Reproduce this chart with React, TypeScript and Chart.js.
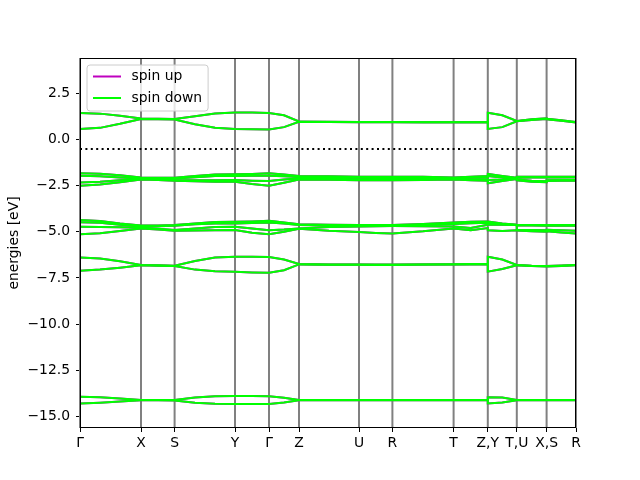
import { useEffect, useRef } from 'react';
import { Chart, registerables } from 'chart.js';
Chart.register(...registerables);

const FONT = "'DejaVu Sans', sans-serif";
const FS = 13.9;

// k-path sample positions (path distance) shared by every band
const kGrid = [0, 20, 40, 61, 78, 94.6, 115, 135, 155, 172, 189, 204, 219, 249, 279, 295.7, 312.4, 343, 373.6, 390.7, 407.8, 407.8, 422.3, 436.8, 436.8, 451.7, 466.6, 466.6, 481.3, 496];
const kTickPos = [0, 61, 94.6, 155, 189, 219, 279, 312.4, 373.6, 407.8, 436.8, 466.6, 496];
const kTickLabels = ['Γ', 'X', 'S', 'Y', 'Γ', 'Z', 'U', 'R', 'T', 'Z,Y', 'T,U', 'X,S', 'R'];
const yTickValues = [2.5, 0, -2.5, -5, -7.5, -10, -12.5, -15];
const yMin = -15.62;
const yMax = 4.4;
const fermiLevel = -0.52;

// bands (eV)
const band1 = [1.43, 1.39, 1.28, 1.13, 1.11, 1.10, 1.25, 1.40, 1.45, 1.45, 1.43, 1.30, 0.97, 0.95, 0.94, 0.94, 0.94, 0.93, 0.93, 0.93, 0.93, 1.44, 1.30, 0.99, 0.99, 1.08, 1.13, 1.11, 1.03, 0.93];
const band2 = [0.56, 0.62, 0.84, 1.10, 1.09, 1.07, 0.82, 0.63, 0.56, 0.54, 0.53, 0.66, 0.95, 0.94, 0.93, 0.93, 0.93, 0.92, 0.92, 0.92, 0.92, 0.56, 0.66, 0.98, 0.98, 1.05, 1.10, 1.08, 1.00, 0.91];
const band3 = [-1.84, -1.86, -1.95, -2.06, -2.08, -2.08, -1.98, -1.91, -1.89, -1.87, -1.84, -1.90, -1.98, -2.00, -2.02, -2.02, -2.03, -2.02, -2.06, -2.02, -1.98, -1.87, -1.98, -2.08, -2.03, -2.02, -2.03, -2.02, -2.02, -2.02];
const band4 = [-1.97, -2.00, -2.06, -2.11, -2.12, -2.12, -2.05, -1.99, -1.98, -1.97, -1.97, -2.00, -2.04, -2.06, -2.07, -2.08, -2.08, -2.09, -2.10, -2.06, -2.04, -1.98, -2.06, -2.11, -2.08, -2.07, -2.07, -2.07, -2.06, -2.05];
const band5 = [-2.34, -2.30, -2.22, -2.14, -2.16, -2.20, -2.22, -2.22, -2.20, -2.24, -2.26, -2.18, -2.12, -2.14, -2.16, -2.15, -2.15, -2.15, -2.14, -2.16, -2.16, -2.20, -2.18, -2.13, -2.18, -2.24, -2.27, -2.22, -2.20, -2.19];
const band6 = [-2.51, -2.45, -2.32, -2.18, -2.20, -2.24, -2.27, -2.29, -2.29, -2.42, -2.51, -2.35, -2.18, -2.19, -2.21, -2.21, -2.22, -2.20, -2.18, -2.22, -2.24, -2.38, -2.26, -2.15, -2.22, -2.30, -2.32, -2.26, -2.24, -2.24];
const band7 = [-4.37, -4.42, -4.55, -4.66, -4.66, -4.64, -4.55, -4.48, -4.46, -4.44, -4.40, -4.50, -4.60, -4.62, -4.64, -4.64, -4.64, -4.58, -4.50, -4.46, -4.45, -4.45, -4.55, -4.62, -4.62, -4.63, -4.64, -4.64, -4.64, -4.64];
const band8 = [-4.49, -4.52, -4.62, -4.72, -4.70, -4.67, -4.60, -4.56, -4.55, -4.53, -4.50, -4.56, -4.64, -4.66, -4.67, -4.67, -4.68, -4.64, -4.58, -4.54, -4.52, -4.52, -4.60, -4.64, -4.66, -4.66, -4.67, -4.67, -4.67, -4.67];
const band9 = [-4.73, -4.74, -4.76, -4.78, -4.84, -4.90, -4.82, -4.75, -4.73, -4.82, -4.92, -4.88, -4.82, -4.74, -4.72, -4.70, -4.69, -4.70, -4.72, -4.80, -4.62, -4.62, -4.62, -4.64, -4.90, -4.91, -4.92, -4.90, -4.92, -4.95];
const band10 = [-5.14, -5.08, -4.96, -4.82, -4.88, -4.95, -4.94, -4.92, -4.91, -5.05, -5.14, -5.00, -4.84, -4.95, -5.02, -5.07, -5.10, -4.98, -4.82, -4.92, -4.80, -4.92, -4.96, -4.92, -4.94, -4.98, -5.00, -4.98, -5.04, -5.09];
const band11 = [-6.39, -6.45, -6.60, -6.80, -6.82, -6.84, -6.58, -6.40, -6.35, -6.35, -6.37, -6.50, -6.75, -6.77, -6.78, -6.78, -6.78, -6.77, -6.76, -6.75, -6.75, -6.35, -6.50, -6.80, -6.80, -6.84, -6.86, -6.86, -6.83, -6.80];
const band12 = [-7.11, -7.05, -6.95, -6.82, -6.84, -6.86, -7.05, -7.14, -7.16, -7.20, -7.22, -7.08, -6.77, -6.79, -6.79, -6.80, -6.80, -6.78, -6.77, -6.77, -6.77, -7.16, -7.02, -6.82, -6.82, -6.86, -6.88, -6.88, -6.85, -6.82];
const band13 = [-13.93, -13.96, -14.03, -14.11, -14.11, -14.11, -13.97, -13.90, -13.89, -13.89, -13.90, -13.98, -14.10, -14.10, -14.10, -14.10, -14.10, -14.10, -14.10, -14.10, -14.10, -13.96, -13.97, -14.10, -14.10, -14.10, -14.11, -14.11, -14.11, -14.11];
const band14 = [-14.29, -14.25, -14.19, -14.12, -14.12, -14.13, -14.26, -14.31, -14.32, -14.32, -14.32, -14.24, -14.12, -14.12, -14.12, -14.12, -14.12, -14.12, -14.12, -14.12, -14.12, -14.29, -14.24, -14.12, -14.12, -14.12, -14.12, -14.12, -14.12, -14.12];

const spinUpBands = [band1, band2, band3, band4, band5, band6, band7, band8, band9, band10, band11, band12, band13, band14];
const spinDownBands = [band1, band2, band3, band4, band5, band6, band7, band8, band9, band10, band11, band12, band13, band14];

const UP_COLOR = '#bf00bf';
const DOWN_COLOR = '#00ff00';

const toPoints = (band: number[]) => kGrid.map((k, i) => ({ x: k, y: band[i] }));

const framePlugin = {
  id: 'frame',
  beforeDatasetsDraw(chart: any) {
    const { ctx, chartArea, scales } = chart;
    ctx.save();
    ctx.strokeStyle = '#808080';
    ctx.lineWidth = 2;
    for (const k of kTickPos) {
      const x = scales.x.getPixelForValue(k);
      ctx.beginPath();
      ctx.moveTo(x, chartArea.top);
      ctx.lineTo(x, chartArea.bottom);
      ctx.stroke();
    }
    ctx.restore();
  },
  afterDatasetsDraw(chart: any) {
    const { ctx, chartArea } = chart;
    ctx.save();
    ctx.strokeStyle = '#000';
    ctx.lineWidth = 1;
    ctx.strokeRect(chartArea.left + 0.5, chartArea.top + 0.5, chartArea.right - chartArea.left - 1, chartArea.bottom - chartArea.top - 1);
    ctx.restore();
  },
  afterDraw(chart: any) {
    const { ctx, chartArea } = chart;
    ctx.save();
    ctx.font = `${FS}px ${FONT}`;
    const x0 = chartArea.left + 7;
    const y0 = chartArea.top + 7;
    const labels = ['spin up', 'spin down'];
    const colors = [UP_COLOR, DOWN_COLOR];
    const textX = x0 + 44.5;
    const w = Math.max(...labels.map((l) => ctx.measureText(l).width));
    const bw = textX + w + 6 - x0;
    const bh = 46;
    const r = 3;
    ctx.beginPath();
    ctx.moveTo(x0 + r, y0);
    ctx.lineTo(x0 + bw - r, y0);
    ctx.quadraticCurveTo(x0 + bw, y0, x0 + bw, y0 + r);
    ctx.lineTo(x0 + bw, y0 + bh - r);
    ctx.quadraticCurveTo(x0 + bw, y0 + bh, x0 + bw - r, y0 + bh);
    ctx.lineTo(x0 + r, y0 + bh);
    ctx.quadraticCurveTo(x0, y0 + bh, x0, y0 + bh - r);
    ctx.lineTo(x0, y0 + r);
    ctx.quadraticCurveTo(x0, y0, x0 + r, y0);
    ctx.closePath();
    ctx.fillStyle = 'rgba(255,255,255,0.8)';
    ctx.fill();
    ctx.strokeStyle = '#cccccc';
    ctx.lineWidth = 1;
    ctx.stroke();
    labels.forEach((l, i) => {
      const yy = y0 + 11.5 + i * 21.5;
      ctx.strokeStyle = colors[i];
      ctx.lineWidth = 2;
      ctx.beginPath();
      ctx.moveTo(x0 + 6, yy);
      ctx.lineTo(x0 + 34, yy);
      ctx.stroke();
      ctx.fillStyle = '#000';
      ctx.textBaseline = 'middle';
      ctx.textAlign = 'left';
      ctx.fillText(l, textX, yy);
    });
    ctx.restore();
  },
};

export default function App() {
  const ref = useRef<HTMLCanvasElement>(null);
  useEffect(() => {
    if (!ref.current) return;
    const datasets: any[] = [];
    spinDownBands.forEach((b, i) => {
      datasets.push({
        label: i === 0 ? 'spin down' : '',
        data: toPoints(b),
        borderColor: DOWN_COLOR,
        borderWidth: 2,
        pointRadius: 0,
        tension: 0,
        order: 1,
      });
    });
    spinUpBands.forEach((b, i) => {
      datasets.push({
        label: i === 0 ? 'spin up' : '',
        data: toPoints(b),
        borderColor: UP_COLOR,
        borderWidth: 2,
        pointRadius: 0,
        tension: 0,
        order: 2,
      });
    });
    datasets.push({
      label: 'fermi',
      data: [{ x: kTickPos[0], y: fermiLevel }, { x: kTickPos[kTickPos.length - 1], y: fermiLevel }],
      borderColor: '#000',
      borderWidth: 2,
      borderDash: [2, 3.4],
      pointRadius: 0,
      order: 0,
    });
    const chart = new Chart(ref.current, {
      type: 'line',
      data: { datasets },
      options: {
        responsive: false,
        animation: false,
        layout: { padding: { top: 58, right: 64, left: 0, bottom: 0 } },
        plugins: { legend: { display: false }, tooltip: { enabled: false } },
        scales: {
          x: {
            type: 'linear',
            min: kTickPos[0],
            max: kTickPos[kTickPos.length - 1],
            afterBuildTicks: (s: any) => { s.ticks = kTickPos.map((v) => ({ value: v })); },
            afterFit: (s: any) => { s.height = 52; },
            border: { display: false },
            grid: { drawOnChartArea: false, drawTicks: true, tickLength: 4, color: '#000', lineWidth: 1 },
            ticks: {
              autoSkip: false,
              maxRotation: 0,
              padding: 3,
              color: '#000',
              font: { family: FONT, size: FS },
              callback: (_v: any, i: number) => kTickLabels[i],
            },
          },
          y: {
            type: 'linear',
            min: yMin,
            max: yMax,
            afterBuildTicks: (s: any) => { s.ticks = yTickValues.map((v) => ({ value: v })); },
            afterFit: (s: any) => { s.width = 80; },
            border: { display: false },
            grid: { drawOnChartArea: false, drawTicks: true, tickLength: 4, color: '#000', lineWidth: 1 },
            title: { display: true, text: 'energies [eV]', color: '#000', font: { family: FONT, size: FS }, padding: { top: 6, bottom: 0 } },
            ticks: {
              padding: 6,
              color: '#000',
              font: { family: FONT, size: FS },
              callback: (v: any) => (v < 0 ? '\u2212' : '') + Math.abs(Number(v)).toFixed(1),
            },
          },
        },
      },
      plugins: [framePlugin],
    });
    return () => chart.destroy();
  }, []);
  return (
    <div style={{ position: 'absolute', left: 0, top: 0, width: 640, height: 480, background: '#fff' }}>
      <canvas ref={ref} width={640} height={480} style={{ width: 640, height: 480 }} />
    </div>
  );
}
